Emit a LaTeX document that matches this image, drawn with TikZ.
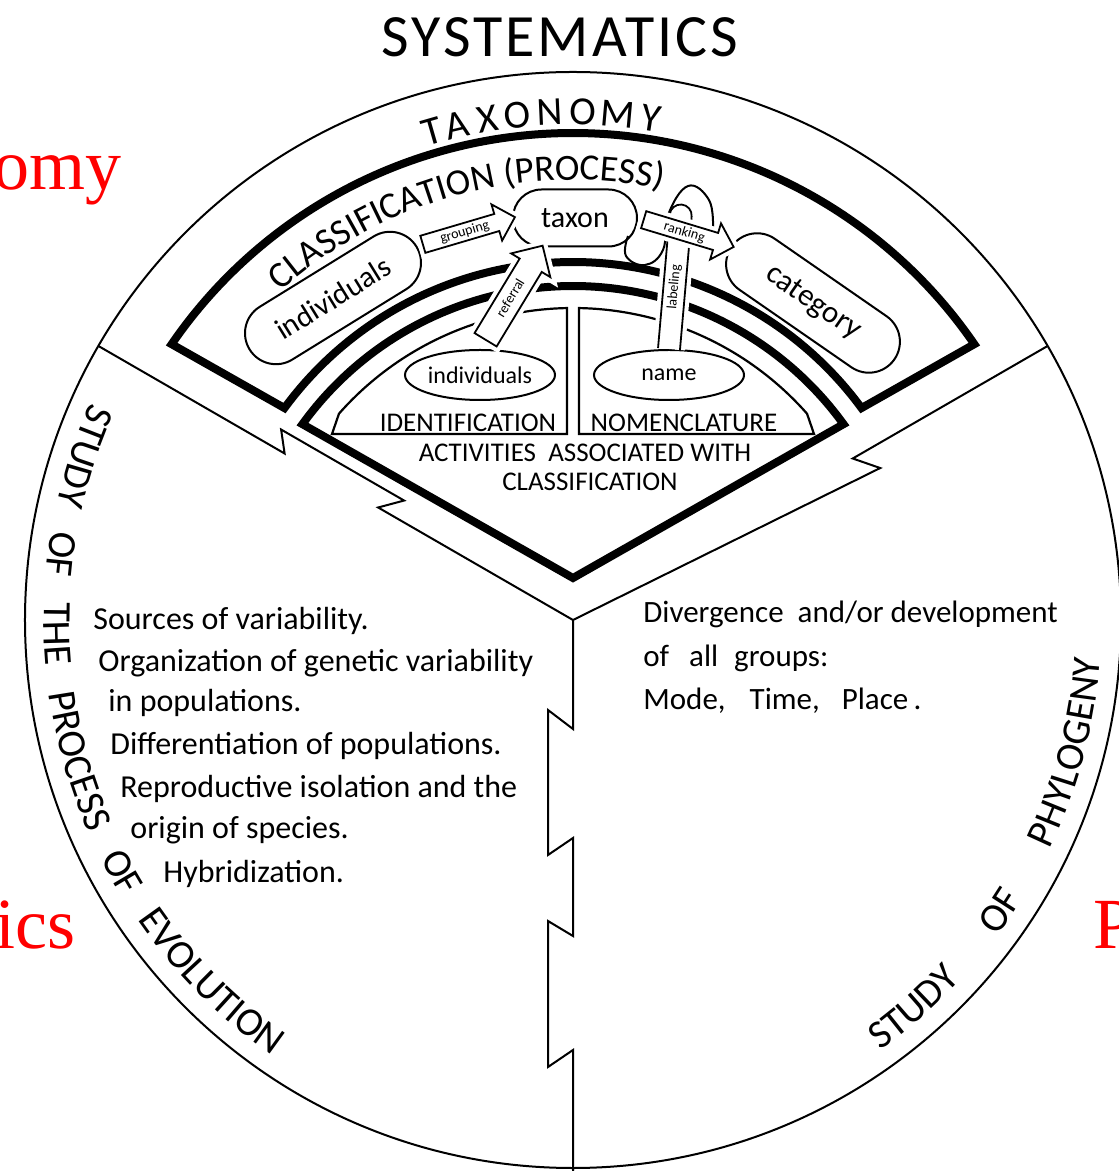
\documentclass[tikz,border=0pt]{standalone}
\usepackage{fontspec}
\setmainfont{Carlito}
\newfontfamily\serifred{Liberation Serif}
\newfontfamily\spacedfont{Carlito}[LetterSpace=5]
\usetikzlibrary{positioning,shapes.geometric,shapes.misc,shapes.arrows,decorations.text}
\newcommand{\fsz}[1]{\fontsize{#1}{#1}\selectfont}
\newcommand{\arcfont}{\fontsize{18.5}{18.5}\selectfont}
\newcommand{\rimfont}{\fontsize{20}{20}\selectfont}

\begin{document}
\begin{tikzpicture}[x=0.5pt,y=0.5pt,
    thin line/.style={line width=1pt},
    thick frame/.style={line width=4pt, line join=miter},
    box line/.style={line width=1.1pt},
    capsule/.style={rounded rectangle, draw, line width=1pt, fill=white, inner sep=0pt},
    oval/.style={ellipse, draw, line width=1pt, fill=white, inner sep=0pt,
      minimum width=75pt, minimum height=25pt, font=\fsz{12}},
    fat arrow/.style={single arrow, draw, line width=0.9pt, fill=white, inner xsep=1pt,
      inner ysep=0.5pt, text height=5.5pt, text depth=1.5pt, single arrow head extend=5pt,
      font=\fsz{7}, preaction={draw=white, line width=5pt}},
    list text/.style={anchor=base west, inner sep=0pt, font=\fsz{15.5}},
    caps text/.style={anchor=base, inner sep=0pt, font=\fsz{13.5}},
    red label/.style={text=red, inner sep=0pt, font=\serifred\fsz{36}}]
  \useasboundingbox (-573,-551) rectangle (545,620);

  % Outer circle and the three dividers
  \draw[thin line] (0,0) circle[radius=548];
  \begin{scope}[rotate=150]
    \draw[thin line] (548,0) -- (333,0) -- (348,-19) -- (206,-19) -- (225,0) -- (0,0);
  \end{scope}
  \begin{scope}[rotate=30]
    \draw[thin line] (548,0) -- (323,0) -- (342,-22) -- (0,0);
  \end{scope}
  \begin{scope}[rotate=-90]
    \draw[thin line] (0,0) -- (109,0) -- (90,-25) -- (235,-25) -- (218,0) -- (316,0)
      -- (301,-25) -- (447,-25) -- (430,0) -- (560,0);
  \end{scope}

  % Classification band and activities wedge
  \draw[thick frame] (145.5:487) arc[start angle=145.5, end angle=34.5, radius=487]
    -- (36.3:358) arc[start angle=36.3, end angle=143.7, radius=358] -- cycle;
  \draw[thick frame] (0,42) -- (144.1:334) arc[start angle=144.1, end angle=35.9, radius=334] -- cycle;
  \draw[box line] (-6,186) -- (-241,186) -- (138.6:312) arc[start angle=138.6, end angle=91.1, radius=312] -- cycle;
  \draw[box line] (6,186) -- (241,186) -- (41.4:312) arc[start angle=41.4, end angle=88.9, radius=312] -- cycle;

  % Nodes
  \node[oval] (identell) at (-93,245) {individuals};
  \node[oval] (nameell) at (96,245) {name};
  \node[capsule, minimum width=98pt, minimum height=31pt, rotate=31.7, font=\fsz{15}] (indcap) at (-240,322) {individuals};
  \node[capsule, minimum width=62pt, minimum height=28.5pt, font=\fsz{15}] (taxon) at (2,402) {taxon};
  \node[capsule, minimum width=99pt, minimum height=31pt, rotate=-34.7, font=\fsz{15.5}] (catcap) at (240,317) {category};

  % Labeling band, loop and block arrows
  \begin{scope}[shift={(nameell.north)}, rotate=85]
    \draw[line width=0.9pt, fill=white, preaction={draw=white, line width=5pt}]
      (0,-11) -- (134,-11) arc[start angle=-90, end angle=90, radius=11] -- (0,11);
    \node[rotate=85, inner sep=0pt, font=\fsz{7}] (labeltext) at (62,0) {labeling};
  \end{scope}
  \draw[line width=1pt] plot[smooth, tension=0.7] coordinates {(55,384) (53,364) (72,355) (90,370) (95,405) (115,434) (136,420) (140,392)};
  \path (taxon.east) -- node[fat arrow, sloped, minimum height=47pt] (rankarrow) {ranking} (catcap.west);
  \path (indcap.east) -- node[fat arrow, sloped, minimum height=48pt] (grouparrow) {grouping} (taxon.west);
  \path (identell.north) -- node[fat arrow, sloped, minimum height=55pt, inner ysep=2.5pt] (refarrow) {referral} (taxon.south west);

  % Curved headings
  \node[font=\spacedfont\fsz{30}] (title) at (-13,583) {SYSTEMATICS};
  \foreach \l/\a [count=\i] in {T/106.1,A/103.2,X/99.7,O/96.3,N/92.6,O/88.9,M/84.9,Y/81.1}
    \node[rotate=\a-90, inner sep=0pt, font=\fsz{20}] (tax\i) at (\a:508) {\l};
  \path[decorate, decoration={text along path, text={|\arcfont|CLASSIFICATION (PROCESS)}, text align=center}]
    (140:440) arc[start angle=140, end angle=70, radius=440];
  \path[decorate, decoration={text along path, text={|\rimfont|STUDY OF THE PROCESS OF EVOLUTION},
    text align={fit to path stretching spaces}}] (155.7:529) arc[start angle=155.7, end angle=235.4, radius=529];
  \path[decorate, decoration={text along path, text={|\rimfont|STUDY OF PHYLOGENY},
    text align={fit to path stretching spaces}}] (-54.5:529) arc[start angle=-54.5, end angle=-4.2, radius=529];

  % Activity labels
  \node[caps text] (identlbl) at (-105,188) {IDENTIFICATION};
  \node[caps text] (nomenlbl) at (111,188) {NOMENCLATURE};
  \node[caps text] (actlbl) at (12,158) {ACTIVITIES\ \ ASSOCIATED WITH};
  \node[caps text] (actlbl2) at (17,129) {CLASSIFICATION};

  % Evolution list
  \node[list text, font=\fsz{16}] (evo1) at (-480,-10) {Sources of variability.};
  \node[list text, font=\fsz{16}] (evo2) at (-475,-52) {Organization of genetic variability};
  \node[list text, font=\fsz{16}] (evo3) at (-465,-92) {in populations.};
  \node[list text, font=\fsz{16}] (evo4) at (-463,-135) {Differentiation of populations.};
  \node[list text, font=\fsz{16}] (evo5) at (-453,-177) {Reproductive isolation and the};
  \node[list text, font=\fsz{16}] (evo6) at (-443,-218) {origin of species.};
  \node[list text, font=\fsz{16}] (evo7) at (-410,-262) {Hybridization.};

  % Phylogeny list
  \node[list text] (phy1) at (70,-3) {Divergence\ \ and/or development};
  \node[list text] (phy2) at (70,-47) {of\hspace{10pt}all\hspace{8pt}groups:};
  \node[list text] (phy3) at (70,-90) {Mode,\hspace{12pt}Time,\hspace{11pt}Place\,.};

  % Red labels at the edges
  \node[red label, anchor=base east] (redtax) at (-451,430) {omy};
  \node[red label, anchor=base east] (redgen) at (-497,-328) {ics};
  \node[red label, anchor=base west] (redphy) at (520,-328) {P};
\end{tikzpicture}
\end{document}
